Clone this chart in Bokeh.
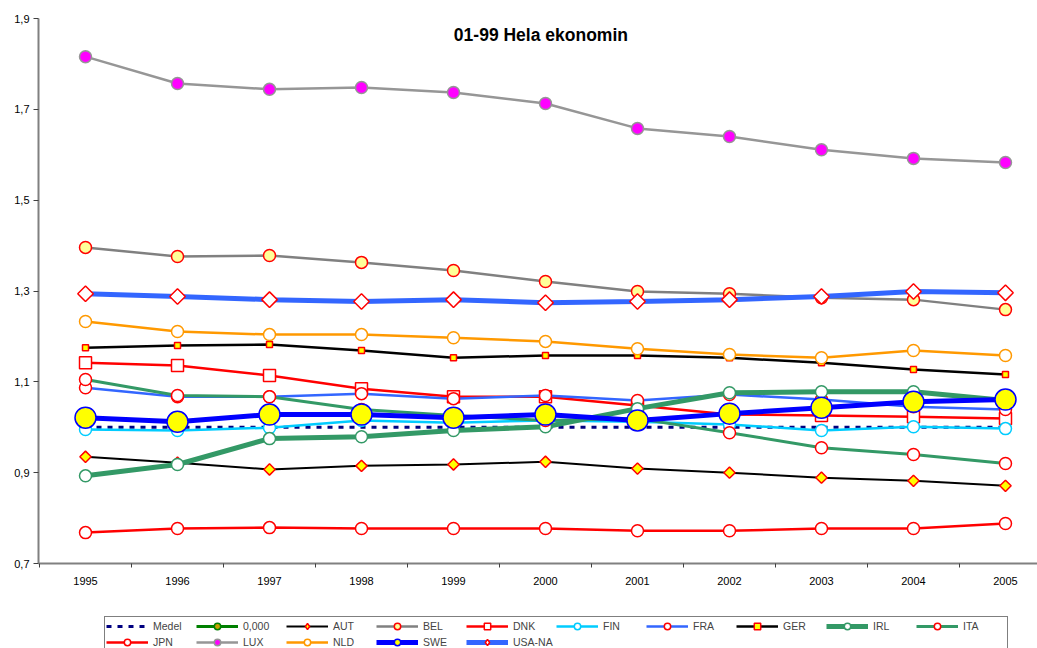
import math
from bokeh.plotting import figure
from bokeh.layouts import column
from bokeh.models import ColumnDataSource, FixedTicker, Legend, LegendItem, Label, Range1d
from bokeh.embed import file_html
from bokeh.resources import INLINE

# ---------------- data ----------------
years = [1995, 1996, 1997, 1998, 1999, 2000, 2001, 2002, 2003, 2004, 2005]
year_labels = ["1995", "1996", "1997", "1998", "1999", "2000", "2001", "2002", "2003", "2004", "2005"]
y_ticks = [0.7, 0.9, 1.1, 1.3, 1.5, 1.7, 1.9]
y_tick_labels = ["0,7", "0,9", "1,1", "1,3", "1,5", "1,7", "1,9"]
title_text = "01-99 Hela ekonomin"

medel = [1.0, 1.0, 1.0, 1.0, 1.0, 1.0, 1.0, 1.0, 1.0, 1.0, 1.0]
zero_series = [0.0, 0.0, 0.0, 0.0, 0.0, 0.0, 0.0, 0.0, 0.0, 0.0, 0.0]
aut = [0.935, 0.922, 0.907, 0.915, 0.918, 0.924, 0.909, 0.900, 0.889, 0.882, 0.871]
bel = [1.396, 1.376, 1.378, 1.363, 1.345, 1.321, 1.299, 1.294, 1.285, 1.281, 1.259]
dnk = [1.142, 1.136, 1.114, 1.085, 1.067, 1.067, 1.048, 1.028, 1.026, 1.023, 1.019]
fin = [0.995, 0.993, 0.999, 1.015, 1.010, 1.015, 1.012, 1.006, 0.993, 1.001, 0.997]
fra = [1.087, 1.067, 1.067, 1.074, 1.063, 1.070, 1.059, 1.072, 1.061, 1.045, 1.039]
ger = [1.175, 1.180, 1.182, 1.169, 1.153, 1.158, 1.158, 1.153, 1.142, 1.127, 1.116]
irl = [0.893, 0.918, 0.975, 0.979, 0.993, 1.001, 1.041, 1.076, 1.078, 1.078, 1.059]
ita = [1.105, 1.070, 1.067, 1.039, 1.026, 1.015, 1.019, 0.988, 0.955, 0.940, 0.920]
jpn = [0.768, 0.777, 0.779, 0.777, 0.777, 0.777, 0.772, 0.772, 0.777, 0.777, 0.788]
lux = [1.816, 1.757, 1.744, 1.748, 1.737, 1.713, 1.658, 1.640, 1.611, 1.592, 1.583]
nld = [1.233, 1.211, 1.204, 1.204, 1.197, 1.189, 1.173, 1.160, 1.153, 1.169, 1.158]
swe = [1.021, 1.012, 1.028, 1.028, 1.021, 1.028, 1.015, 1.030, 1.043, 1.056, 1.061]
usa = [1.294, 1.288, 1.281, 1.277, 1.281, 1.274, 1.277, 1.281, 1.288, 1.299, 1.296]

series_names = ["Medel", "0,000", "AUT", "BEL", "DNK", "FIN", "FRA", "GER", "IRL", "ITA",
                "JPN", "LUX", "NLD", "SWE", "USA-NA"]
series_values = [medel, zero_series, aut, bel, dnk, fin, fra, ger, irl, ita, jpn, lux, nld, swe, usa]

# ---------------- styles ----------------
# (line_color, line_width, dash, marker, size, fill, edge, angle)
styles = {
    "Medel":  ("#000080", 3.0, "5 6", None, 0, None, None, 0),
    "0,000":  ("#008000", 3.0, "solid", "circle", 7, "#C8A000", "#008000", 0),
    "AUT":    ("#000000", 2.0, "solid", "square", 8, "#FFFF00", "#FF0000", math.pi / 4),
    "BEL":    ("#808080", 2.5, "solid", "circle", 12, "#FFFF99", "#FF0000", 0),
    "DNK":    ("#FF0000", 2.5, "solid", "square", 12, "#FFFFFF", "#FF0000", 0),
    "FIN":    ("#00CCFF", 2.5, "solid", "circle", 12, "#FFFFFF", "#00CCFF", 0),
    "FRA":    ("#3366FF", 2.5, "solid", "circle", 12, "#FFFFFF", "#FF0000", 0),
    "GER":    ("#000000", 2.5, "solid", "square", 6, "#FFFF00", "#FF0000", 0),
    "IRL":    ("#339966", 5.0, "solid", "circle", 12, "#FFFFFF", "#339966", 0),
    "ITA":    ("#339966", 3.0, "solid", "circle", 12, "#FFFFFF", "#FF0000", 0),
    "JPN":    ("#FF0000", 2.5, "solid", "circle", 12, "#FFFFFF", "#FF0000", 0),
    "LUX":    ("#969696", 2.5, "solid", "circle", 12, "#FF00FF", "#969696", 0),
    "NLD":    ("#FF9900", 2.5, "solid", "circle", 12, "#FFFFFF", "#FF9900", 0),
    "SWE":    ("#0000FF", 5.0, "solid", "circle", 21, "#FFFF00", "#0000FF", 0),
    "USA-NA": ("#3366FF", 5.0, "solid", "square", 11, "#FFFFFF", "#FF0000", math.pi / 4),
}

data = {"year": years}
for n, v in zip(series_names, series_values):
    data[n] = v
source = ColumnDataSource(data)

FONT = "Liberation Sans"


def add_series(fig, name, for_legend=False):
    lc, lw, dash, marker, size, fill, edge, ang = styles[name]
    rs = [fig.line(x="year", y=name, source=source, line_color=lc, line_width=lw, line_dash=dash)]
    if marker:
        if for_legend and ang:
            marker, ang = "diamond", 0
        rs.append(fig.scatter(x="year", y=name, source=source, marker=marker, size=size,
                              fill_color=fill, line_color=edge, line_width=1.5, angle=ang))
    return rs


# ---------------- main chart ----------------
p = figure(width=1037, height=600, output_backend="svg", toolbar_location=None,
           x_range=Range1d(1994.489, 2005.348), y_range=Range1d(0.7, 1.9),
           min_border_left=38, min_border_top=18, min_border_right=0, min_border_bottom=37)
p.outline_line_color = None
p.xgrid.visible = False
p.ygrid.visible = False
p.background_fill_color = "white"
p.border_fill_color = "white"

p.xaxis.ticker = FixedTicker(ticks=years, minor_ticks=[y - 0.5 for y in years] + [years[-1] + 0.5])
p.xaxis.major_label_overrides = {y: l for y, l in zip(years, year_labels)}
p.xaxis.major_tick_out = 0
p.xaxis.major_tick_in = 0
p.xaxis.minor_tick_out = 4
p.xaxis.minor_tick_in = 0
p.xaxis.minor_tick_line_color = "#404040"
p.xaxis.major_label_standoff = 9

p.yaxis.ticker = FixedTicker(ticks=y_ticks, minor_ticks=[])
p.yaxis.major_label_overrides = {t: l for t, l in zip(y_ticks, y_tick_labels)}
p.yaxis.major_tick_out = 5
p.yaxis.major_tick_in = 0
p.yaxis.major_label_standoff = 4

for ax in (p.xaxis, p.yaxis):
    ax.axis_line_color = "#808080"
    ax.axis_line_width = 2
    ax.major_tick_line_color = "#404040"
    ax.major_label_text_font = FONT
    ax.major_label_text_font_size = "11px"
    ax.major_label_text_color = "#000000"

for n in series_names:
    add_series(p, n)

title = Label(x=1999.95, y=1.8626, text=title_text, text_align="center", text_baseline="middle",
              text_font=FONT, text_font_size="17.5px", text_font_style="bold", text_color="#000000")
p.add_layout(title)

# ---------------- legend strip ----------------
lg = figure(width=1037, height=48, output_backend="svg", toolbar_location=None,
            x_range=Range1d(0, 1), y_range=Range1d(100, 101),
            x_axis_location=None, y_axis_location=None,
            min_border_left=0, min_border_top=0, min_border_right=0, min_border_bottom=0)
lg.xgrid.visible = False
lg.ygrid.visible = False
lg.outline_line_color = None
lg.background_fill_color = "white"
lg.border_fill_color = "white"

items = [LegendItem(label=n, renderers=add_series(lg, n, for_legend=True)) for n in series_names]
legend = Legend(items=items, orientation="horizontal", ncols=10, location=(66, -4),
                glyph_width=42, glyph_height=16, label_width=43, label_height=16,
                label_standoff=5, spacing=0, padding=1, margin=0,
                label_text_font=FONT, label_text_font_size="10.5px",
                border_line_color="#000000", border_line_width=1,
                background_fill_color="white", background_fill_alpha=1.0)
lg.add_layout(legend, "center")

layout = column(p, lg, spacing=0)
open("out.html", "w").write(file_html(layout, INLINE))
